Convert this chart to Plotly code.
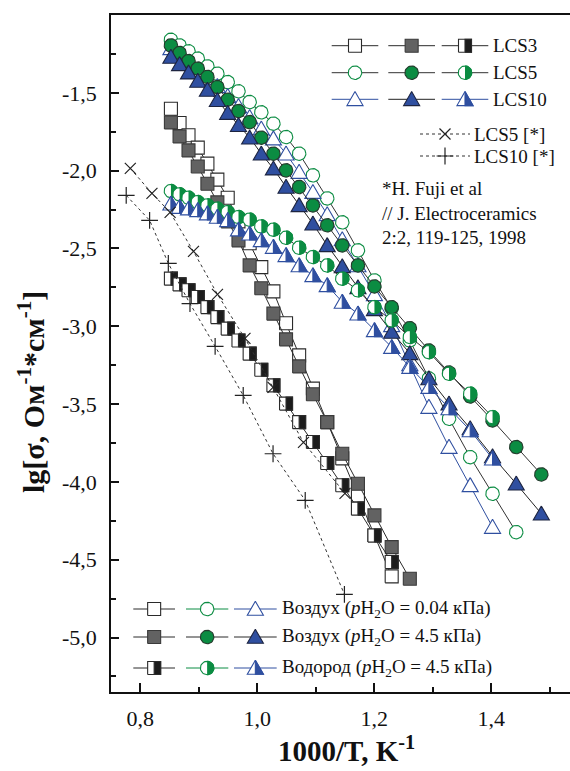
import math
import plotly.graph_objects as go

# ---------------------------------------------------------------- data
# 1000/T (K^-1) of the measurement temperatures, hottest first
inv_T = [0.8524, 0.8672, 0.8825, 0.8983, 0.9148, 0.9318, 0.9495, 0.9679, 0.9870,
         1.0069, 1.0276, 1.0492, 1.0716, 1.0951, 1.1196, 1.1453, 1.1721, 1.2003,
         1.2298, 1.2608, 1.2934, 1.3278, 1.3640, 1.4022, 1.4427, 1.4856]

# lg(sigma), Ohm^-1 cm^-1
lcs3_air_dry = [-1.602, -1.694, -1.773, -1.852, -1.955, -2.058, -2.174, -2.326, -2.467,
                -2.620, -2.776, -2.981, -3.187, -3.401, -3.616, -3.849, -4.087, -4.344,
                -4.607]
lcs3_air_wet = [-1.690, -1.780, -1.870, -1.973, -2.084, -2.204, -2.326, -2.448, -2.609,
                -2.756, -2.919, -3.084, -3.258, -3.437, -3.616, -3.819, -4.012, -4.215,
                -4.419, -4.622]
lcs3_h2_wet = [-2.694, -2.731, -2.769, -2.812, -2.877, -2.941, -3.015, -3.091, -3.176,
               -3.279, -3.380, -3.497, -3.616, -3.744, -3.879, -4.022, -4.172, -4.344,
               -4.515]

lcs5_air_dry = [-1.159, -1.195, -1.233, -1.280, -1.330, -1.377, -1.431, -1.490, -1.559,
                -1.625, -1.698, -1.784, -1.891, -2.030, -2.178, -2.332, -2.512, -2.705,
                -2.885, -3.091, -3.335, -3.594, -3.841, -4.076, -4.323]
lcs5_air_wet = [-1.195, -1.244, -1.296, -1.344, -1.398, -1.463, -1.544, -1.617, -1.688,
                -1.788, -1.891, -1.998, -2.105, -2.223, -2.351, -2.480, -2.609, -2.744,
                -2.877, -3.012, -3.155, -3.297, -3.451, -3.605, -3.776, -3.952]
lcs5_h2_wet = [-2.131, -2.152, -2.174, -2.202, -2.223, -2.244, -2.266, -2.298, -2.315,
               -2.358, -2.379, -2.431, -2.495, -2.555, -2.609, -2.694, -2.769, -2.877,
               -2.962, -3.069, -3.166, -3.305, -3.433, -3.584]

lcs10_air_dry = [-1.214, -1.259, -1.304, -1.355, -1.407, -1.458, -1.522, -1.586, -1.657,
                 -1.730, -1.794, -1.891, -2.009, -2.138, -2.281, -2.442, -2.609, -2.795,
                 -2.994, -3.245, -3.519, -3.776, -4.022, -4.290]
lcs10_air_wet = [-1.270, -1.317, -1.370, -1.424, -1.482, -1.547, -1.630, -1.708, -1.788,
                 -1.891, -1.987, -2.105, -2.223, -2.341, -2.480, -2.615, -2.750, -2.891,
                 -3.037, -3.174, -3.335, -3.497, -3.656, -3.836, -4.012, -4.204]
lcs10_h2_wet = [-2.212, -2.234, -2.244, -2.255, -2.276, -2.298, -2.319, -2.379, -2.405,
                -2.448, -2.491, -2.544, -2.609, -2.673, -2.737, -2.844, -2.919, -3.026,
                -3.134, -3.262, -3.391, -3.528, -3.669, -3.851]

# literature data (H. Fuji et al.)
ref_lcs5_x = [0.783, 0.820, 0.851, 0.891, 0.932, 0.979, 1.027, 1.079, 1.150]
ref_lcs5_y = [-1.985, -2.146, -2.268, -2.519, -2.795, -3.078, -3.393, -3.746, -4.074]
ref_lcs10_x = [0.776, 0.816, 0.848, 0.885, 0.928, 0.976, 1.027, 1.082, 1.149]
ref_lcs10_y = [-2.159, -2.319, -2.596, -2.855, -3.129, -3.444, -3.819, -4.119, -4.723]

x_tick_vals = [0.8, 1.0, 1.2, 1.4]
x_tick_text = ["0,8", "1,0", "1,2", "1,4"]
x_minor_vals = [0.9, 1.1, 1.3, 1.5]
y_tick_vals = [-1.5, -2.0, -2.5, -3.0, -3.5, -4.0, -4.5, -5.0]
y_tick_text = ["-1,5", "-2,0", "-2,5", "-3,0", "-3,5", "-4,0", "-4,5", "-5,0"]
y_minor_vals = [-1.25, -1.75, -2.25, -2.75, -3.25, -3.75, -4.25, -4.75, -5.25]

# ---------------------------------------------------------------- geometry
W, H = 570, 771
M_L, M_R, M_T, M_B = 111, 0, 15, 79
X_RANGE = [0.75, 1.5346]
Y_RANGE = [-5.35, -1.0]
PX_X = (W - M_L - M_R) / (X_RANGE[1] - X_RANGE[0])
PX_Y = (H - M_T - M_B) / (Y_RANGE[1] - Y_RANGE[0])

FONT = "Liberation Serif"
GREEN = "#0b8c42"
BLUE = "#2f4fa0"
GRAY = "#626262"
DARK = "#1c1c1c"

STYLES = {
    "lcs3_dry": dict(kind="square", size=13, fill="white", half=None, edge="#2a2a2a", line="#2a2a2a"),
    "lcs3_wet": dict(kind="square", size=13, fill=GRAY, half=None, edge="#3a3a3a", line="#2a2a2a"),
    "lcs3_h2": dict(kind="square", size=13, fill="white", half=DARK, edge="#2a2a2a", line="#2a2a2a"),
    "lcs5_dry": dict(kind="circle", size=13.5, fill="white", half=None, edge=GREEN, line="#333333"),
    "lcs5_wet": dict(kind="circle", size=13.5, fill=GREEN, half=None, edge="#243a2c", line="#333333"),
    "lcs5_h2": dict(kind="circle", size=13.5, fill="white", half=GREEN, edge=GREEN, line="#333333"),
    "lcs10_dry": dict(kind="triangle", size=14, fill="white", half=None, edge=BLUE, line=BLUE),
    "lcs10_wet": dict(kind="triangle", size=14, fill=BLUE, half=None, edge="#1d2440", line="#222222"),
    "lcs10_h2": dict(kind="triangle", size=14, fill="white", half=BLUE, edge=BLUE, line=BLUE),
}


def outline(kind, size, part):
    """Symbol outline as pixel offsets (dx right, dy up)."""
    if kind == "circle":
        r = size / 2
        angles = range(0, 361, 10) if part == "full" else range(-90, 91, 10)
        return [(r * math.cos(math.radians(a)), r * math.sin(math.radians(a))) for a in angles]
    if kind == "square":
        h = size / 2
        if part == "full":
            return [(-h, -h), (h, -h), (h, h), (-h, h), (-h, -h)]
        return [(0, -h), (h, -h), (h, h), (0, h), (0, -h)]
    w = size * 1.15
    top, bot = size * 0.55, -size * 0.45
    if part == "full":
        return [(0, top), (w / 2, bot), (-w / 2, bot), (0, top)]
    return [(0, top), (w / 2, bot), (0, bot), (0, top)]


def symbol_traces(cx, cy, st, on_data=True):
    parts = [("full", st["fill"])]
    if st["half"]:
        parts.append(("right", st["half"]))
    out = []
    for part, color in parts:
        pts = outline(st["kind"], st["size"], part)
        if on_data:
            xs = [cx + dx / PX_X for dx, dy in pts]
            ys = [cy + dy / PX_Y for dx, dy in pts]
            ax = dict(xaxis="x", yaxis="y")
        else:
            xs = [cx + dx for dx, dy in pts]
            ys = [cy - dy for dx, dy in pts]
            ax = dict(xaxis="x2", yaxis="y2")
        out.append(go.Scatter(x=xs, y=ys, mode="lines", fill="toself", fillcolor=color,
                              line=dict(color=st["edge"], width=1.1), hoverinfo="skip",
                              showlegend=False, **ax))
    return out


fig = go.Figure()

series = [
    ("lcs3_dry", lcs3_air_dry), ("lcs5_dry", lcs5_air_dry), ("lcs10_dry", lcs10_air_dry),
    ("lcs3_wet", lcs3_air_wet), ("lcs5_wet", lcs5_air_wet), ("lcs10_wet", lcs10_air_wet),
    ("lcs3_h2", lcs3_h2_wet), ("lcs5_h2", lcs5_h2_wet), ("lcs10_h2", lcs10_h2_wet),
]
for key, yvals in series:
    st = STYLES[key]
    xvals = inv_T[:len(yvals)]
    fig.add_trace(go.Scatter(x=xvals, y=yvals, mode="lines", line=dict(color=st["line"], width=1),
                             hoverinfo="skip", showlegend=False))
    for xv, yv in zip(xvals, yvals):
        for tr in symbol_traces(xv, yv, st):
            fig.add_trace(tr)

REF_LINE = dict(color="#333333", width=1, dash="3px,3px")
fig.add_trace(go.Scatter(x=ref_lcs5_x, y=ref_lcs5_y, mode="lines+markers", line=REF_LINE,
                         marker=dict(symbol="x-thin", size=11, line=dict(width=1.2, color="#222222")),
                         hoverinfo="skip", showlegend=False))
fig.add_trace(go.Scatter(x=ref_lcs10_x, y=ref_lcs10_y, mode="lines+markers", line=REF_LINE,
                         marker=dict(symbol="cross-thin", size=12, line=dict(width=1.2, color="#222222")),
                         hoverinfo="skip", showlegend=False))

# ---------------------------------------------------------------- legends (page-pixel overlay)
annotations = []


def legend_sample(x0, x1, cy, st, line_color):
    fig.add_trace(go.Scatter(x=[x0, x1], y=[cy, cy], mode="lines", xaxis="x2", yaxis="y2",
                             line=dict(color=line_color, width=1), hoverinfo="skip", showlegend=False))
    for tr in symbol_traces((x0 + x1) / 2, cy, st, on_data=False):
        fig.add_trace(tr)


def label(x, y, text, size):
    annotations.append(dict(x=x, y=y, xref="x2", yref="y2", text=text, showarrow=False,
                            xanchor="left", yanchor="middle",
                            font=dict(family=FONT, size=size, color="#111111")))


top_cols = [(331.7, 378.3), (388.3, 435.0), (441.7, 488.3)]
top_rows = [
    (45.7, "LCS3", [("lcs3_dry", "#2a2a2a"), ("lcs3_wet", "#2a2a2a"), ("lcs3_h2", "#2a2a2a")]),
    (72.7, "LCS5", [("lcs5_dry", "#333333"), ("lcs5_wet", "#333333"), ("lcs5_h2", "#333333")]),
    (99.3, "LCS10", [("lcs10_dry", BLUE), ("lcs10_wet", "#222222"), ("lcs10_h2", BLUE)]),
]
for cy, name, items in top_rows:
    for (x0, x1), (key, lc) in zip(top_cols, items):
        legend_sample(x0, x1, cy, STYLES[key], lc)
    label(491, cy, name, 19)

for cy, name, sym, sz in [(134, "LCS5 [*]", "x-thin", 11), (156, "LCS10 [*]", "cross-thin", 12)]:
    fig.add_trace(go.Scatter(x=[420, 470], y=[cy, cy], mode="lines", xaxis="x2", yaxis="y2",
                             line=REF_LINE, hoverinfo="skip", showlegend=False))
    fig.add_trace(go.Scatter(x=[445], y=[cy], mode="markers", xaxis="x2", yaxis="y2",
                             marker=dict(symbol=sym, size=sz, line=dict(width=1.2, color="#222222")),
                             hoverinfo="skip", showlegend=False))
    label(472, cy, name, 19)

for cy, text in [(188.3, "*H. Fuji et al"), (213.3, "// J. Electroceramics"),
                 (237.3, "2:2, 119-125, 1998")]:
    label(380, cy, text, 19)

bot_cols = [(133.3, 175.0), (186.0, 228.3), (234.0, 276.7)]
bot_rows = [
    (609, "Воздух (<i>p</i>H<sub>2</sub>O = 0.04 кПа)",
     [("lcs3_dry", "#2a2a2a"), ("lcs5_dry", GREEN), ("lcs10_dry", BLUE)]),
    (637, "Воздух (<i>p</i>H<sub>2</sub>O = 4.5 кПа)",
     [("lcs3_wet", "#2a2a2a"), ("lcs5_wet", "#2a2a2a"), ("lcs10_wet", "#2a2a2a")]),
    (668, "Водород (<i>p</i>H<sub>2</sub>O = 4.5 кПа)",
     [("lcs3_h2", "#2a2a2a"), ("lcs5_h2", GREEN), ("lcs10_h2", BLUE)]),
]
for cy, name, items in bot_rows:
    for (x0, x1), (key, lc) in zip(bot_cols, items):
        legend_sample(x0, x1, cy, STYLES[key], lc)
    label(280, cy, name, 19)

# axis titles
annotations.append(dict(x=(346 - M_L) / (W - M_L - M_R), y=-(749 - (H - M_B)) / (H - M_T - M_B),
                        xref="paper", yref="paper", showarrow=False, xanchor="center", yanchor="middle",
                        text="<b>1000/T, K<sup>-1</sup></b>",
                        font=dict(family=FONT, size=29, color="#111111")))
annotations.append(dict(x=(31 - M_L) / (W - M_L - M_R), y=((H - M_B) - 392) / (H - M_T - M_B),
                        xref="paper", yref="paper", showarrow=False, xanchor="center", yanchor="middle",
                        textangle=-90, text="<b>lg[σ, Ом<sup>-1</sup>*см<sup>-1</sup>]</b>",
                        font=dict(family=FONT, size=30, color="#111111")))

AX_FONT = dict(family=FONT, size=22, color="#111111")
fig.update_layout(
    width=W, height=H, autosize=False,
    margin=dict(l=M_L, r=M_R, t=M_T, b=M_B),
    plot_bgcolor="white", paper_bgcolor="white",
    showlegend=False,
    annotations=annotations,
    xaxis=dict(range=X_RANGE, showgrid=False, zeroline=False, showline=True, linecolor="#111111",
               linewidth=1.5, mirror=True, ticks="inside", ticklen=9, tickwidth=1.5,
               tickcolor="#111111", tickvals=x_tick_vals, ticktext=x_tick_text, tickfont=AX_FONT,
               ticklabelstandoff=6,
               minor=dict(tickvals=x_minor_vals, ticks="inside", ticklen=5, tickwidth=1.5,
                          tickcolor="#111111")),
    yaxis=dict(range=Y_RANGE, showgrid=False, zeroline=False, showline=True, linecolor="#111111",
               linewidth=1.5, mirror=False, ticks="inside", ticklen=8, tickwidth=1.5,
               tickcolor="#111111", tickvals=y_tick_vals, ticktext=y_tick_text, tickfont=AX_FONT,
               ticklabelstandoff=8,
               minor=dict(tickvals=y_minor_vals, ticks="inside", ticklen=5, tickwidth=1.5,
                          tickcolor="#111111")),
    xaxis2=dict(overlaying="x", range=[M_L, W - M_R], visible=False, fixedrange=True),
    yaxis2=dict(overlaying="y", range=[H - M_B, M_T], visible=False, fixedrange=True),
)

fig.write_html("out.html")
